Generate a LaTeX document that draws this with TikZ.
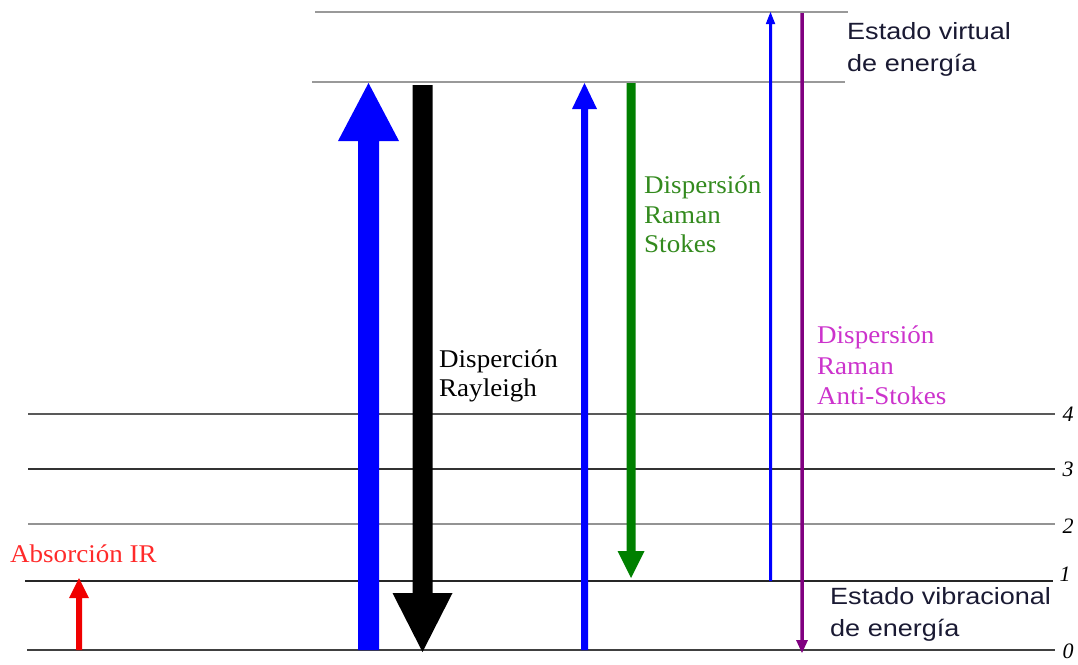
\documentclass[tikz,border=0pt]{standalone}
\usepackage{fontspec}
\setmainfont{Liberation Serif}
\newfontfamily\estfont[FakeStretch=1.15]{Liberation Sans}
\newfontfamily\serwide[FakeStretch=1.06]{Liberation Serif}
\definecolor{estcol}{HTML}{1A1A33}
\definecolor{greentxt}{HTML}{338A1E}
\definecolor{magtxt}{HTML}{CC33CC}
\definecolor{redtxt}{HTML}{FF2A2A}
\definecolor{arrblue}{HTML}{0000FF}
\definecolor{arrgreen}{HTML}{008000}
\definecolor{arrpurple}{HTML}{800080}
\definecolor{arrred}{HTML}{F00000}
\newcommand\fatarrow[7]{%
  \pgfmathsetmacro\faxl{#2-#5/2}\pgfmathsetmacro\faxr{#2+#5/2}%
  \pgfmathsetmacro\fahl{#2-#6/2}\pgfmathsetmacro\fahr{#2+#6/2}%
  \pgfmathsetmacro\fayb{#4+#7*sign(#3-#4)}%
  \fill[#1] (\faxl,#3) -- (\faxl,\fayb) -- (\fahl,\fayb) -- (#2,#4) -- (\fahr,\fayb) -- (\faxr,\fayb) -- (\faxr,#3) -- cycle;}
\tikzset{
  lvl/.style={line width=#1},
  num/.style={font=\itshape\fontsize{22}{22}\selectfont, inner sep=0pt},
  est/.style={font=\estfont\fontsize{23.5}{32}\selectfont, text=estcol, anchor=base west, inner sep=0pt},
  lab/.style={font=\serwide\fontsize{25.5}{30}\selectfont, anchor=base west, inner sep=0pt},
}
\begin{document}
\begin{tikzpicture}[x=1pt,y=-1pt]
\useasboundingbox (0,0) rectangle (1078,664);
% energy levels
\draw[lvl=2pt, gray!80] (315,12) -- (848,12);
\draw[lvl=2pt, gray!80] (312,82) -- (845,82);
\draw[lvl=1.8pt, gray!70!black] (28,414) -- (1055,414);
\draw[lvl=1.3pt, black!80] (28,469) -- (1055,469);
\draw[lvl=1.8pt, gray!85] (28,524) -- (1055,524);
\draw[lvl=1.3pt, black!85] (25,581) -- (1053,581);
\draw[lvl=1.5pt, black!75] (27,650) -- (1055,650);
% level numbers
\node[num] (n4) at (1068,414) {4};
\node[num] (n3) at (1068,469) {3};
\node[num] (n2) at (1068,526) {2};
\node[num] (n1) at (1065,574) {1};
\node[num] (n0) at (1068,651) {0};
% arrows
\fatarrow{arrred}{79}{650}{578}{6}{20}{20}
\fatarrow{arrblue}{368.5}{650}{83}{21}{61}{58}
\fatarrow{black}{422.5}{85}{652}{20}{60}{59}
\fatarrow{arrblue}{584.5}{650}{83}{7}{25}{26}
\fatarrow{arrgreen}{631}{83}{578}{9}{27}{27}
\fatarrow{arrblue}{770.5}{581}{12}{3}{9.5}{12}
\fatarrow{arrpurple}{802}{13}{653}{3.5}{12}{13}
% labels
\node[est] (ev1) at (847,39) {Estado virtual};
\node[est] (ev2) at (847,71) {de energía};
\node[est] (eb1) at (830,604) {Estado vibracional};
\node[est] (eb2) at (830,636) {de energía};
\node[lab] (ray1) at (439,367) {Disperción};
\node[lab] (ray2) at (439,396) {Rayleigh};
\node[lab, text=greentxt] (st1) at (644,193) {Dispersión};
\node[lab, text=greentxt] (st2) at (644,223) {Raman};
\node[lab, text=greentxt] (st3) at (644,252) {Stokes};
\node[lab, text=magtxt] (as1) at (817,343) {Dispersión};
\node[lab, text=magtxt] (as2) at (817,374) {Raman};
\node[lab, text=magtxt] (as3) at (817,404) {Anti-Stokes};
\node[lab, text=redtxt] (ir) at (10,562) {Absorción IR};
\end{tikzpicture}
\end{document}
